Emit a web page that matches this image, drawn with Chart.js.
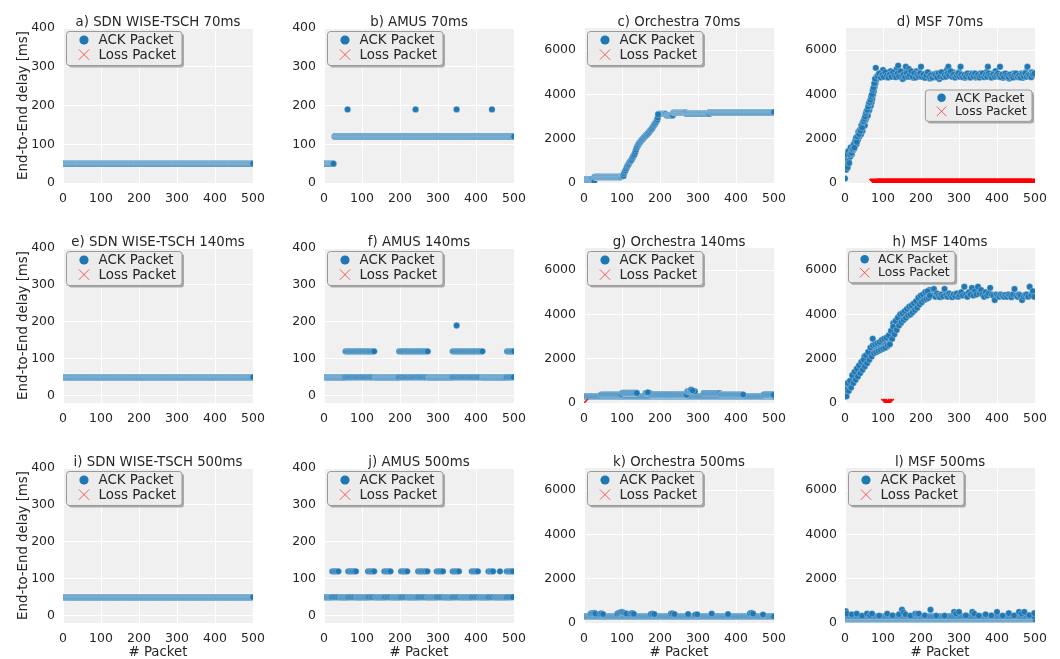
<!DOCTYPE html>
<html>
<head>
<meta charset="utf-8">
<script src="https://cdn.jsdelivr.net/npm/chart.js@4.4.1/dist/chart.umd.min.js"></script>
<style>
  html, body { margin: 0; padding: 0; background: #ffffff; overflow: hidden; }
  #fig { position: relative; width: 1060px; height: 659px; }
  #fig canvas { position: absolute; }
</style>
</head>
<body>
<div id="fig"></div>
<script>
// ---------------- axis ticks ----------------
const packetTicks = [0, 100, 200, 300, 400, 500];
const shortDelayTicks = [0, 100, 200, 300, 400];
const longDelayTicks = [0, 2000, 4000, 6000];

const panelTitles = [
  'a) SDN WISE-TSCH 70ms', 'b) AMUS 70ms', 'c) Orchestra 70ms', 'd) MSF 70ms',
  'e) SDN WISE-TSCH 140ms', 'f) AMUS 140ms', 'g) Orchestra 140ms', 'h) MSF 140ms',
  'i) SDN WISE-TSCH 500ms', 'j) AMUS 500ms', 'k) Orchestra 500ms', 'l) MSF 500ms'
];
const seriesLabels = ['ACK Packet', 'Loss Packet'];

// ---------------- delays ----------------
// runs: [first packet, last packet, every n-th packet, delay ms]
// pairs: [packet, delay ms]

// SDN WISE-TSCH
const sdn70Runs = [[0, 500, 1, 50]];
const sdn140Runs = [[0, 500, 1, 50]];
const sdn500Runs = [[0, 500, 1, 50]];

// AMUS
const amus70Runs = [[0, 25, 1, 50], [28, 500, 1, 120]];
const amus70Pairs = [[62, 190], [241, 190], [349, 190], [442, 190]];

const amus140Runs = [
  [0, 55, 1, 50], [56, 134, 3, 50], [135, 196, 1, 50], [197, 275, 3, 50],
  [276, 337, 1, 50], [338, 417, 3, 50], [418, 480, 1, 50], [481, 500, 3, 50],
  [57, 134, 3, 120], [198, 275, 3, 120], [339, 417, 3, 120], [482, 500, 3, 120]
];
const amus140Pairs = [[349, 190]];

const amus500Runs = [
  [0, 21, 2, 50], [22, 41, 4, 50], [42, 63, 2, 50], [64, 85, 4, 50], [86, 115, 2, 50],
  [116, 135, 4, 50], [136, 158, 2, 50], [159, 178, 4, 50], [179, 202, 2, 50], [203, 221, 4, 50],
  [222, 247, 2, 50], [248, 272, 4, 50], [273, 296, 2, 50], [297, 316, 4, 50], [317, 338, 2, 50],
  [339, 358, 4, 50], [359, 388, 2, 50], [389, 408, 4, 50], [409, 432, 2, 50], [433, 448, 4, 50],
  [449, 480, 2, 50], [481, 500, 4, 50],
  [22, 41, 4, 120], [64, 85, 4, 120], [116, 135, 4, 120], [159, 178, 4, 120], [203, 221, 4, 120],
  [248, 272, 4, 120], [297, 316, 4, 120], [339, 358, 4, 120], [389, 408, 4, 120], [433, 448, 4, 120],
  [463, 463, 1, 120], [481, 500, 4, 120]
];

// Orchestra
const orch70Runs = [
  [0, 22, 1, 160], [23, 27, 1, 90], [28, 98, 1, 270], [99, 104, 1, 320],
  [196, 216, 1, 3120], [217, 234, 1, 3060], [235, 269, 1, 3180], [270, 330, 1, 3130], [331, 500, 1, 3200]
];
const orch70Pairs = [
  [105, 420], [107, 500], [109, 560], [111, 640], [113, 720], [115, 790], [117, 830], [119, 900],
  [121, 960], [123, 1000], [125, 1040], [127, 1120], [129, 1180], [131, 1240], [133, 1300], [135, 1400],
  [137, 1500], [139, 1600], [141, 1670], [143, 1730], [145, 1790], [147, 1830], [149, 1880], [151, 1920],
  [153, 1960], [155, 2000], [157, 2040], [159, 2080], [161, 2110], [163, 2150], [165, 2180], [167, 2210],
  [169, 2250], [171, 2290], [173, 2340], [175, 2390], [177, 2420], [179, 2470], [181, 2520], [183, 2580],
  [185, 2630], [187, 2680], [189, 2740], [191, 2800], [193, 2860], [194, 2950], [195, 3100]
];

const orch140Runs = [
  [0, 500, 2, 300], [45, 100, 2, 380], [101, 140, 2, 450], [162, 175, 2, 440], [176, 270, 2, 370],
  [272, 292, 2, 520], [315, 358, 2, 440], [359, 420, 2, 380], [473, 500, 2, 370]
];
const orch140Pairs = [[168, 480], [282, 600], [286, 560]];
const orch140LossPairs = [[0, 0]];

const orch500Runs = [[0, 500, 2, 300]];
const orch500Pairs = [
  [18, 420], [21, 440], [24, 430], [27, 450], [30, 420], [42, 410], [46, 430], [50, 400],
  [88, 420], [92, 450], [96, 480], [100, 500], [104, 470], [108, 440], [112, 420], [123, 420],
  [127, 440], [131, 410], [176, 400], [180, 420], [185, 400], [229, 420], [233, 430], [238, 400],
  [274, 400], [293, 380], [298, 390], [336, 420], [379, 400], [437, 430], [441, 450], [445, 420], [471, 380]
];

// MSF
const msf70Pairs = [
  [0, 200], [1, 900], [2, 1300], [3, 600], [4, 1100], [6, 800], [8, 1250], [10, 1000], [12, 1400],
  [14, 1200], [16, 1500], [18, 1300], [20, 1450], [22, 1650], [24, 1550], [26, 1750], [28, 1850],
  [30, 1750], [32, 2000], [34, 1950], [36, 2150], [38, 2100], [40, 2250], [42, 2200], [44, 2400],
  [46, 2350], [48, 2550], [50, 2650], [52, 2600], [54, 2850], [56, 2950], [58, 3100], [60, 3050],
  [62, 3250], [64, 3300], [66, 3450], [68, 3500], [70, 3650], [72, 3800], [74, 4000], [76, 4150],
  [78, 4350], [80, 4500], [81, 5200], [82, 4650], [83, 4800],
  [84, 4750], [88, 4900], [92, 4800], [96, 5000], [100, 5100], [104, 4850], [108, 4780], [112, 4950],
  [116, 4820], [120, 5050], [124, 4880], [128, 4800], [132, 4950], [136, 5150], [140, 5300], [144, 4900],
  [148, 4780], [152, 4700], [156, 5000], [160, 5250], [164, 4850], [168, 5150], [172, 4800], [176, 4950],
  [180, 4750], [184, 4900], [188, 5050], [192, 4800], [196, 5000], [200, 5250], [204, 4880], [208, 4800],
  [212, 4950], [216, 4760], [220, 4850], [224, 4720], [228, 4900], [232, 4800], [236, 4780], [240, 4950],
  [244, 4820], [248, 4700], [252, 4880], [256, 4800], [260, 4950], [264, 4850], [268, 5100], [272, 5250],
  [276, 4900], [280, 4820], [284, 5000], [288, 4780], [292, 4900], [296, 4850], [300, 5000], [304, 5250],
  [308, 4880], [312, 4800], [316, 4750], [320, 4900], [324, 4820], [328, 4780], [332, 4950], [336, 4800],
  [340, 4850], [344, 4760], [348, 4900], [352, 4820], [356, 4950], [360, 4880], [364, 4800], [368, 4900],
  [372, 5000], [376, 5250], [380, 4850], [384, 4780], [388, 4950], [392, 4820], [396, 5050], [400, 4900],
  [404, 4800], [408, 5250], [412, 4850], [416, 4750], [420, 4900], [424, 4780], [428, 4800], [432, 4720],
  [436, 4880], [440, 4800], [444, 4950], [448, 4850], [452, 4780], [456, 4900], [460, 4820], [464, 4950],
  [468, 4750], [472, 4880], [476, 5000], [480, 5250], [484, 4900], [488, 4850], [492, 5000], [496, 4950], [500, 4900]
];
const msf70MorePairs = [
  [5, 1300], [7, 700], [9, 1450], [11, 900], [13, 1300], [15, 1600], [17, 1350], [19, 1500], [21, 1550],
  [23, 1750], [25, 1600], [27, 1900], [29, 2050], [31, 1850], [33, 2100], [35, 2300], [37, 2200],
  [39, 2400], [41, 2350], [43, 2600], [45, 2500], [47, 2750], [49, 2800], [51, 2900], [53, 3000],
  [55, 3150], [57, 3250], [59, 3300], [61, 3450], [63, 3600], [65, 3650], [67, 3750], [69, 3900],
  [71, 4000], [73, 4200], [75, 4300], [77, 4500], [79, 4700],
  [86, 4820], [90, 4950], [94, 4760], [98, 4880], [102, 4800], [106, 5000], [110, 4850], [114, 4760],
  [118, 4900], [122, 4800], [126, 5000], [130, 4850], [134, 4780], [138, 4950], [142, 4820], [146, 5050],
  [150, 4850], [154, 4900], [158, 4780], [162, 4950], [166, 4800], [170, 4880], [174, 5050], [178, 4800],
  [182, 4950], [186, 4760], [190, 4880], [194, 4820], [198, 4950], [202, 4800], [206, 4900], [210, 4750],
  [214, 4850], [218, 5000], [222, 4800], [226, 4880], [230, 4760], [234, 4900], [238, 4850], [242, 4780],
  [246, 4950], [250, 4820], [254, 5000], [258, 4780], [262, 4880], [266, 4800], [270, 4950], [274, 4850],
  [278, 5050], [282, 4800], [286, 4900], [290, 4760], [294, 4850], [298, 4950], [302, 4800], [306, 4900],
  [310, 4780], [314, 4880], [318, 4800], [322, 4950], [326, 4850], [330, 4760], [334, 4900], [338, 4820],
  [342, 4950], [346, 4800], [350, 4880], [354, 4760], [358, 4850], [362, 4950], [366, 4780], [370, 4880],
  [374, 4800], [378, 4950], [382, 4850], [386, 4760], [390, 4900], [394, 4800], [398, 4880], [402, 4950],
  [406, 4850], [410, 4780], [414, 4900], [418, 4800], [422, 4950], [426, 4850], [430, 4780], [434, 4900],
  [438, 4820], [442, 4760], [446, 4880], [450, 4950], [454, 4800], [458, 4850], [462, 4760], [466, 4900],
  [470, 4820], [474, 4950], [478, 4800], [482, 4880], [486, 4850], [490, 4780], [494, 4900], [498, 4950]
];
const msf70LossRuns = [[75, 500, 1, 0]];

const msf140Pairs = [
  [0, 300], [3, 700], [6, 500], [9, 850], [12, 750], [15, 1000], [18, 900], [21, 1150], [24, 1050],
  [27, 1300], [30, 1200], [33, 1400], [36, 1350], [39, 1550], [42, 1450], [45, 1700], [48, 1600],
  [51, 2100], [54, 1800], [57, 2000], [60, 2150], [63, 2050], [66, 2300], [69, 2200], [72, 2450],
  [73, 2900], [75, 2350], [78, 2550], [81, 2400], [84, 2600], [87, 2450], [90, 2700], [93, 2550],
  [96, 2800], [99, 2500], [102, 2850], [105, 2650], [108, 2750], [111, 2550], [114, 2900], [117, 2700],
  [120, 3000], [123, 3150], [126, 3350], [127, 3600], [129, 3250], [132, 3500], [135, 3450], [138, 3650],
  [141, 3850], [144, 3700], [147, 3600], [150, 3800], [153, 3750], [156, 3950], [159, 3850], [162, 4050],
  [165, 3950], [168, 4150], [171, 4100], [174, 4250], [177, 4200], [180, 4350], [183, 4300], [186, 4450],
  [189, 4400], [192, 4550], [195, 4650], [198, 4600], [201, 4750], [204, 4700], [207, 4800], [210, 4850],
  [213, 4750], [216, 4900], [219, 4800], [222, 5100],
  [226, 4900], [230, 4850], [234, 5150], [238, 4800], [242, 4950], [246, 4850], [250, 4780], [254, 4900],
  [258, 4820], [262, 5150], [266, 4880], [270, 4800], [274, 4950], [278, 4850], [282, 4780], [286, 4900],
  [290, 4820], [294, 4950], [298, 4800], [302, 4880], [306, 5000], [310, 4850], [314, 5250], [318, 4900],
  [322, 4800], [326, 5000], [330, 4900], [334, 5200], [338, 4850], [342, 5050], [346, 4900], [350, 5250],
  [354, 4950], [358, 5100], [362, 4900], [366, 4800], [370, 5000], [374, 4850], [378, 4950], [382, 5200],
  [386, 4900], [390, 4850], [394, 4650], [398, 4900], [402, 4850], [406, 4800], [410, 4900], [414, 4850],
  [418, 4800], [422, 4880], [426, 4800], [430, 4900], [434, 4850], [438, 4780], [442, 4900], [446, 5150],
  [450, 4850], [454, 4800], [458, 4900], [462, 4850], [466, 4650], [470, 4800], [474, 4880], [478, 4900],
  [482, 4800], [486, 5250], [490, 4850], [494, 5050], [498, 4800]
];
const msf140MorePairs = [
  [1, 600], [4, 300], [7, 900], [10, 550], [13, 1000], [16, 700], [19, 1250], [22, 900], [25, 1400],
  [28, 1050], [31, 1550], [34, 1200], [37, 1700], [40, 1350], [43, 1850], [46, 1500], [49, 1950],
  [52, 1650], [55, 2150], [58, 1800], [61, 2300], [64, 1950], [67, 2500], [70, 2100], [73, 2600],
  [76, 2250], [79, 2650], [82, 2300], [85, 2700], [88, 2350], [91, 2750], [94, 2400], [97, 2850],
  [100, 2450], [103, 2900], [106, 2500], [109, 2950], [112, 2600], [115, 3050], [118, 2650], [121, 3250],
  [124, 2900], [127, 3450], [130, 3100], [133, 3700], [136, 3300], [139, 3850], [142, 3500], [145, 4000],
  [148, 3650], [151, 4050], [154, 3750], [157, 4150], [160, 3850], [163, 4250], [166, 3950], [169, 4350],
  [172, 4000], [175, 4400], [178, 4100], [181, 4500], [184, 4200], [187, 4600], [190, 4300], [193, 4750],
  [196, 4450], [199, 4850], [202, 4550], [205, 4900], [208, 4650], [211, 5000], [214, 4700], [217, 5050],
  [220, 4750], [223, 4850]
];
const msf140LossPairs = [[106, 0], [110, 0], [114, 0], [118, 0]];

const msf500Runs = [[0, 500, 1, 180], [1, 500, 4, 300]];
const msf500Pairs = [
  [2, 530], [5, 420], [18, 390], [31, 420], [45, 330], [58, 420], [66, 350], [71, 420], [90, 330],
  [111, 420], [125, 340], [142, 390], [150, 600], [154, 480], [159, 390], [172, 330], [185, 420],
  [190, 400], [194, 420], [210, 340], [225, 600], [240, 330], [262, 330], [287, 500], [292, 420],
  [300, 500], [318, 340], [335, 500], [340, 420], [352, 330], [370, 390], [385, 340], [400, 500],
  [415, 330], [431, 440], [445, 340], [458, 500], [465, 420], [472, 500], [485, 350], [498, 440]
];

// ---------------- helpers ----------------
function fromRuns(runs) {
  const pts = [];
  for (const [first, last, every, delay] of runs) {
    for (let p = first; p <= last; p += every) pts.push({ x: p, y: delay });
  }
  return pts;
}
const fromPairs = pairs => pairs.map(([x, y]) => ({ x, y }));

const small = { min: 0, max: 400, ticks: shortDelayTicks };
const smallLow = { min: -20, max: 400, ticks: shortDelayTicks };
const large = { min: 0, max: 7000, ticks: longDelayTicks };
const legendStd = { align: 'left', top: 3.5, size: 13 };

const panels = [
  { ack: fromRuns(sdn70Runs), loss: [], y: small, legend: legendStd },
  { ack: fromRuns(amus70Runs).concat(fromPairs(amus70Pairs)), loss: [], y: small, legend: legendStd },
  { ack: fromRuns(orch70Runs).concat(fromPairs(orch70Pairs)), loss: [], y: large, legend: legendStd },
  { ack: fromPairs(msf70Pairs).concat(fromPairs(msf70MorePairs)), loss: fromRuns(msf70LossRuns), y: large,
    legend: { align: 'right', top: 62, size: 12 } },
  { ack: fromRuns(sdn140Runs), loss: [], y: smallLow, legend: legendStd },
  { ack: fromRuns(amus140Runs).concat(fromPairs(amus140Pairs)), loss: [], y: smallLow, legend: legendStd },
  { ack: fromRuns(orch140Runs).concat(fromPairs(orch140Pairs)), loss: fromPairs(orch140LossPairs), y: large, legend: legendStd },
  { ack: fromPairs(msf140Pairs).concat(fromPairs(msf140MorePairs)), loss: fromPairs(msf140LossPairs), y: large,
    legend: { align: 'left', top: 3.4, size: 12 } },
  { ack: fromRuns(sdn500Runs), loss: [], y: smallLow, legend: legendStd },
  { ack: fromRuns(amus500Runs), loss: [], y: smallLow, legend: legendStd },
  { ack: fromRuns(orch500Runs).concat(fromPairs(orch500Pairs)), loss: [], y: large, legend: legendStd },
  { ack: fromRuns(msf500Runs).concat(fromPairs(msf500Pairs)), loss: [], y: large, legend: legendStd }
];

// ---------------- styling ----------------
const FONT = "'DejaVu Sans', 'Liberation Sans', sans-serif";
const TEXT = '#262626';
const BLUE = '#1f77b4';
const PANEL_BG = '#f0f0f0';

// grey plotting area behind the grid
const panelBackground = {
  id: 'panelBackground',
  beforeDraw(chart) {
    const { ctx, chartArea: a } = chart;
    ctx.save();
    ctx.fillStyle = PANEL_BG;
    ctx.fillRect(a.left, a.top, a.right - a.left, a.bottom - a.top);
    ctx.restore();
  }
};

function roundRect(ctx, x, y, w, h, r) {
  ctx.beginPath();
  ctx.moveTo(x + r, y);
  ctx.lineTo(x + w - r, y);
  ctx.arcTo(x + w, y, x + w, y + r, r);
  ctx.lineTo(x + w, y + h - r);
  ctx.arcTo(x + w, y + h, x + w - r, y + h, r);
  ctx.lineTo(x + r, y + h);
  ctx.arcTo(x, y + h, x, y + h - r, r);
  ctx.lineTo(x, y + r);
  ctx.arcTo(x, y, x + r, y, r);
  ctx.closePath();
}

// framed legend with drop shadow, placed inside the plotting area
const boxLegend = {
  id: 'boxLegend',
  afterDatasetsDraw(chart, args, o) {
    const { ctx, chartArea: a } = chart;
    const s = o.size / 13;
    const w = 115.5 * s, h = 34 * s;
    const x = o.align === 'right' ? a.right - 3 - w : a.left + 3.5;
    const y = a.top + o.top;
    ctx.save();
    roundRect(ctx, x + 2, y + 2, w, h, 3);
    ctx.fillStyle = 'rgba(110,110,110,0.55)';
    ctx.fill();
    roundRect(ctx, x, y, w, h, 3);
    ctx.fillStyle = '#ececec';
    ctx.fill();
    ctx.lineWidth = 1;
    ctx.strokeStyle = '#999999';
    ctx.stroke();
    ctx.font = `${o.size + 0.4}px ${FONT}`;
    ctx.textBaseline = 'middle';
    chart.data.datasets.forEach((ds, i) => {
      const cy = y + (9 + i * 14.6) * s;
      const mx = x + 17.5 * s;
      if (i === 0) {
        ctx.beginPath();
        ctx.arc(mx, cy - 0.5, 4.6 * s, 0, Math.PI * 2);
        ctx.fillStyle = BLUE;
        ctx.fill();
      } else {
        const d = 5.2 * s;
        ctx.beginPath();
        ctx.moveTo(mx - d, cy - d - 0.5); ctx.lineTo(mx + d, cy + d - 0.5);
        ctx.moveTo(mx - d, cy + d - 0.5); ctx.lineTo(mx + d, cy - d - 0.5);
        ctx.strokeStyle = 'rgba(255,40,40,0.75)';
        ctx.lineWidth = 1;
        ctx.stroke();
      }
      ctx.fillStyle = TEXT;
      ctx.fillText(ds.label, x + 32 * s, cy);
    });
    ctx.restore();
  }
};

// ---------------- figure grid ----------------
const PAD = { l: 60, t: 26, r: 14, b: 36 };
const colLeft = [63, 324, 584, 845];
const rowTop = [28, 248, 468];
const plotW = 190, plotH = 155;
const fig = document.getElementById('fig');

panels.forEach((p, n) => {
  const row = Math.floor(n / 4), col = n % 4;
  const cv = document.createElement('canvas');
  cv.width = PAD.l + plotW + PAD.r;
  cv.height = PAD.t + plotH + PAD.b;
  cv.style.left = (colLeft[col] - PAD.l) + 'px';
  cv.style.top = (rowTop[row] - PAD.t) + 'px';
  cv.style.width = cv.width + 'px';
  cv.style.height = cv.height + 'px';
  fig.appendChild(cv);

  new Chart(cv, {
    type: 'scatter',
    data: {
      datasets: [
        {
          label: seriesLabels[0], data: p.ack, order: 1, clip: 0,
          pointStyle: 'circle', pointRadius: 3.2, pointBackgroundColor: BLUE,
          pointBorderColor: '#ffffff', pointBorderWidth: 0.28
        },
        {
          label: seriesLabels[1], data: p.loss, order: 0, clip: 0,
          pointStyle: 'crossRot', pointRadius: 5.6, pointBorderColor: '#ff0000',
          pointBackgroundColor: '#ff0000', pointBorderWidth: 1.4
        }
      ]
    },
    options: {
      responsive: false,
      animation: false,
      events: [],
      devicePixelRatio: 1,
      layout: { padding: { left: 0, top: 0, right: PAD.r, bottom: 0 } },
      plugins: {
        legend: { display: false },
        tooltip: { enabled: false },
        title: {
          display: true, text: panelTitles[n], fullSize: false, color: TEXT,
          font: { family: FONT, size: 13.3, weight: 'normal', lineHeight: '16px' },
          padding: { top: PAD.t - 13, bottom: -3 }
        },
        boxLegend: p.legend
      },
      scales: {
        x: {
          type: 'linear', min: 0, max: 500,
          afterBuildTicks: s => { s.ticks = packetTicks.map(v => ({ value: v })); },
          afterFit: s => { s.height = PAD.b; s.paddingLeft = 0; s.paddingRight = 0; },
          ticks: {
            color: TEXT, font: { family: FONT, size: 12.5 }, padding: 8,
            maxRotation: 0, autoSkip: false, callback: v => String(v)
          },
          grid: { color: '#ffffff', lineWidth: 1, drawTicks: false },
          border: { display: false },
          title: {
            display: row === 2, text: '# Packet', color: TEXT,
            font: { family: FONT, size: 13.3, lineHeight: '12px' }, padding: { top: 0, bottom: 0 }
          }
        },
        y: {
          type: 'linear', min: p.y.min, max: p.y.max,
          afterBuildTicks: s => { s.ticks = p.y.ticks.map(v => ({ value: v })); },
          afterFit: s => { s.width = PAD.l; s.paddingTop = 0; s.paddingBottom = 0; },
          ticks: {
            color: TEXT, font: { family: FONT, size: 12.5 }, padding: 8,
            autoSkip: false, callback: v => String(v)
          },
          grid: { color: '#ffffff', lineWidth: 1, drawTicks: false },
          border: { display: false },
          title: {
            display: col === 0, text: 'End-to-End delay [ms]', color: TEXT,
            font: { family: FONT, size: 13.3, lineHeight: '16px' }, padding: { top: 13, bottom: 0 }
          }
        }
      }
    },
    plugins: [panelBackground, boxLegend]
  });
});
</script>
</body>
</html>
